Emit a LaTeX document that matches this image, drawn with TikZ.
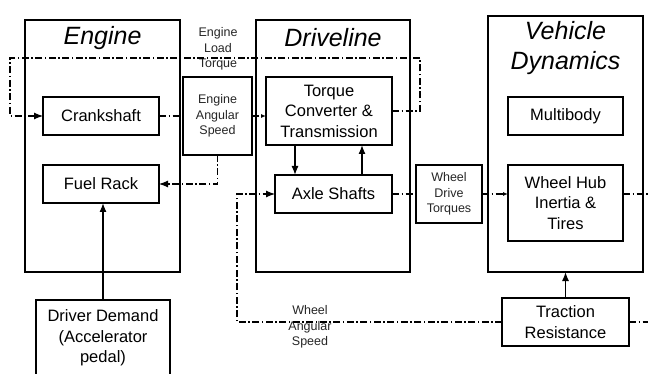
\documentclass[tikz,border=0pt]{standalone}
\usepackage{fontspec}
\setmainfont{Liberation Sans}
\usetikzlibrary{arrows.meta}
\begin{document}
\begin{tikzpicture}[x=1pt,y=-1pt,
  outerbox/.style={draw,line width=1.3pt,inner sep=0pt,outer sep=0pt},
  blk/.style={draw,fill=white,line width=1.2pt,inner sep=0pt,outer sep=0pt,align=center,font=\fontsize{16.5}{20.5}\selectfont},
  smallblk/.style={draw,fill=white,line width=1.2pt,inner sep=0pt,outer sep=0pt,align=center,font=\fontsize{12.5}{15.5}\selectfont,text=black!85},
  lbl/.style={align=center,inner sep=0pt,font=\fontsize{12.5}{15.5}\selectfont,text=black!85},
  ttl/.style={align=center,inner sep=0pt,font=\fontsize{25}{30}\selectfont\itshape},
  dd/.style={line width=1.1pt,dash pattern=on 7pt off 2.5pt on 1.5pt off 2.5pt},
  arr/.style={-{Latex[length=9pt,width=7pt]}},
  sarr/.style={-{Latex[length=5pt,width=4pt]}},
  solid arrow/.style={line width=1.3pt,-{Latex[length=9pt,width=7pt]}}
]
\clip (0,0) rectangle (648,374);
\fill[white] (0,0) rectangle (648,374);

% outer subsystem boxes
\node[outerbox,minimum width=155pt,minimum height=252pt] (engine) at (102.5,146) {};
\node[outerbox,minimum width=154pt,minimum height=252pt] (drive) at (333,146) {};
\node[outerbox,minimum width=155pt,minimum height=256pt] (veh) at (565.5,144) {};

% titles
\node[ttl] (tEngine) at (102.5,38) {Engine};
\node[ttl] (tDrive) at (333,38) {Driveline};
\node[ttl] (tVeh) at (565.5,48) {Vehicle\\Dynamics};

% inner blocks
\node[blk,minimum width=116pt,minimum height=38pt] (crank) at (101,116) {Crankshaft};
\node[blk,minimum width=116pt,minimum height=38pt] (fuel) at (101,184) {Fuel Rack};
\node[smallblk,minimum width=69pt,minimum height=78pt] (eas) at (217.5,116) {Engine\\Angular\\Speed};
\node[blk,minimum width=126pt,minimum height=68pt] (tc) at (329,111) {Torque\\Converter \&\\Transmission};
\node[blk,minimum width=117pt,minimum height=38pt] (axle) at (333.5,194) {Axle Shafts};
\node[smallblk,minimum width=66pt,minimum height=58pt] (wdt) at (449,194) {Wheel\\Drive\\Torques};
\node[blk,minimum width=115pt,minimum height=38pt] (multi) at (565.5,116) {Multibody};
\node[blk,minimum width=115pt,minimum height=76pt] (hub) at (565.5,203) {Wheel Hub\\Inertia \&\\Tires};
\node[blk,minimum width=127pt,minimum height=48pt] (trac) at (565.5,322) {Traction\\Resistance};
\node[blk,minimum width=134pt,minimum height=96pt,text height=0pt] (driver) at (103,348) {};
\node[align=center,inner sep=0pt,font=\fontsize{16.5}{20.5}\selectfont] (driverTxt) at (103,338) {Driver Demand\\(Accelerator\\pedal)};

% labels
\node[lbl] (lLoad) at (218,49) {Engine\\Load\\Torque};
\node[lbl] (lWheel) at (310,327) {Wheel\\Angular\\Speed};

% helper coordinates
\coordinate (fbR) at (420,58);
\coordinate (fbL) at (10,58);
\coordinate (wl) at (237,322);
\coordinate (hubOut) at (655,194);
\coordinate (tracOut) at (655,322);

% dash-dot signal lines
\draw[dd,arr] (tc.east) -| (fbR) -- (fbL) |- (crank.west);
\draw[dd] (crank.east) -- (eas.west);
\draw[dd,sarr] (eas.east) -- (eas.east -| tc.west);
\draw[dd,arr] (eas.south) |- (fuel.east);
\draw[dd,arr] (trac.west) -- (wl) |- (axle.west);
\draw[dd] (axle.east) -- (wdt.west);
\draw[dd,sarr] (wdt.east) -- (wdt.east -| hub.west);
\draw[dd] (hub.east |- wdt.east) -- (hubOut);
\draw[dd] (trac.east) -- (tracOut);

% solid arrows
\draw[solid arrow] ([xshift=29pt]tc.south west) -- ([xshift=29pt]tc.south west |- axle.north);
\draw[solid arrow] ([xshift=-30pt]axle.north east) -- ([xshift=-30pt]axle.north east |- tc.south);
\draw[solid arrow] (driver.north) -- (driver.north |- fuel.south);
\draw[solid arrow] (trac.north) -- (trac.north |- veh.south);
\end{tikzpicture}
\end{document}
